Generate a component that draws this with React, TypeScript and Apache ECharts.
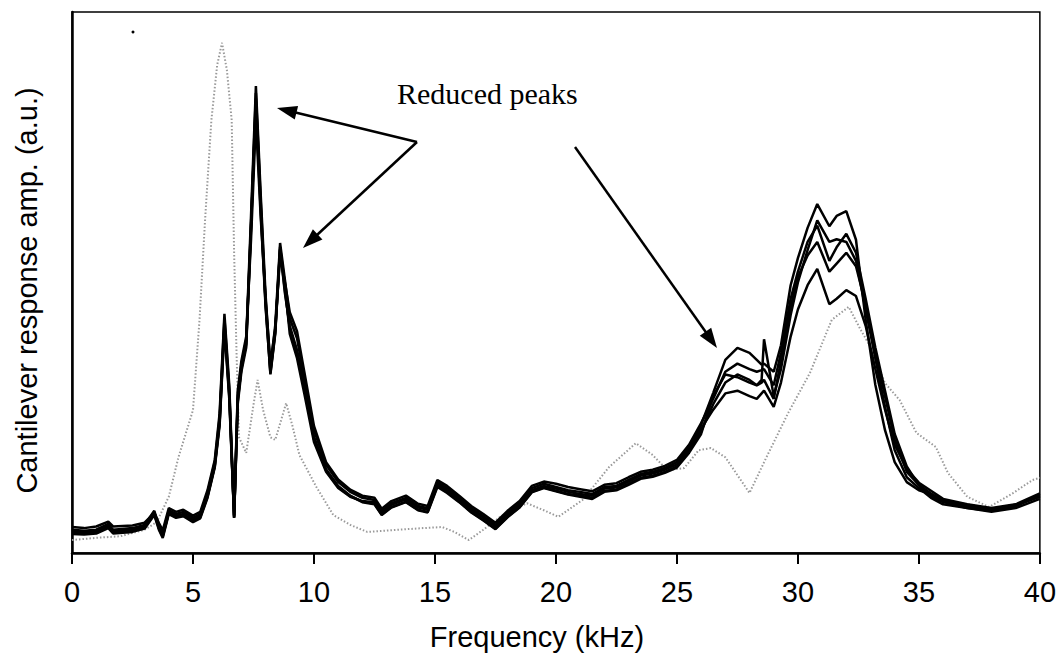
import { useEffect, useRef } from "react";
import * as echarts from "echarts";

// Frequency samples (kHz) for the black (loaded) curves
const FREQ = [
  0, 0.5, 1, 1.5, 1.7, 2.5, 3, 3.4, 3.6, 3.75,
  4, 4.3, 4.6, 5, 5.3, 5.6, 5.9, 6.1, 6.3, 6.5,
  6.7, 6.85, 7, 7.2, 7.4, 7.6, 7.8, 8, 8.2, 8.4,
  8.6, 8.8, 9, 9.3, 9.6, 10, 10.5, 11, 11.5, 12,
  12.5, 12.8, 13.2, 13.8, 14.3, 14.7, 15.1, 15.5, 16, 16.5,
  17, 17.5, 18, 18.5, 19, 19.5, 20, 20.5, 21, 21.5,
  22, 22.5, 23, 23.5, 24, 24.5, 25, 25.5, 26, 26.5,
  27, 27.5, 28, 28.3, 28.5, 28.6, 29, 29.3, 29.7, 30,
  30.4, 30.8, 31.3, 31.6, 32, 32.4, 32.8, 33.2, 33.6, 34,
  34.5, 35, 35.5, 36, 37, 38, 39, 40,
];

const CURVE_A = [
  4.3, 4.1, 4.3, 5.4, 4.3, 4.6, 5.2, 7.8, 5.0, 3.7,
  7.9, 7.2, 7.6, 6.5, 7.2, 11.1, 16.8, 25.0, 43.4, 30.1,
  6.5, 29.2, 34.8, 39.4, 62.5, 86.3, 66.2, 47.7, 34.2, 42.1,
  57.3, 50.5, 43.4, 39.7, 32.3, 22.7, 16.3, 13.1, 11.3, 10.2,
  9.8, 7.8, 9.2, 10.2, 8.7, 8.3, 13.1, 12.0, 10.2, 8.3,
  6.8, 5.2, 7.4, 9.2, 12.0, 12.8, 12.2, 11.6, 11.3, 10.9,
  12.2, 12.4, 13.5, 14.6, 15.0, 15.7, 16.8, 19.6, 23.7, 29.6,
  35.7, 37.9, 37.0, 35.7, 34.8, 35.0, 33.5, 38.4, 49.5, 54.5,
  60.1, 64.5, 60.4, 62.3, 63.2, 57.9, 43.1, 31.1, 22.7, 16.8,
  13.1, 11.6, 10.9, 9.8, 8.9, 8.1, 8.9, 10.5,
];

const CURVE_B = [
  3.5, 3.4, 3.6, 4.6, 3.6, 3.9, 4.5, 7.0, 4.2, 2.8,
  7.2, 6.5, 6.8, 5.7, 6.4, 10.2, 15.8, 23.5, 41.5, 28.5,
  6.5, 27.5, 33.5, 38.0, 60.0, 84.0, 64.0, 46.0, 33.0, 40.5,
  56.0, 48.5, 41.5, 37.0, 30.8, 21.5, 15.5, 12.4, 10.6, 9.5,
  9.1, 7.1, 8.5, 9.5, 8.0, 7.6, 12.4, 11.3, 9.5, 7.6,
  6.1, 4.5, 6.7, 8.5, 11.3, 12.1, 11.5, 10.9, 10.6, 10.2,
  11.5, 11.7, 12.8, 13.9, 14.3, 15.0, 16.0, 18.8, 22.5, 27.5,
  31.5, 33.0, 32.0, 31.0, 32.0, 39.5, 29.0, 34.0, 44.0, 50.0,
  56.0, 61.5, 57.5, 58.0, 57.5, 54.0, 45.0, 36.0, 27.0, 19.0,
  14.0, 12.0, 10.2, 9.0, 8.3, 7.6, 8.3, 10.0,
];

const CURVE_C = [
  4.8, 4.6, 4.9, 5.8, 4.9, 5.1, 5.6, 7.4, 5.5, 4.2,
  8.3, 7.6, 8.0, 6.9, 7.6, 11.6, 17.2, 25.8, 44.2, 31.0,
  7.0, 30.0, 35.5, 40.0, 58.0, 80.0, 62.0, 47.0, 35.0, 41.5,
  55.0, 50.0, 44.5, 41.0, 33.5, 23.5, 16.8, 13.6, 11.7, 10.6,
  10.2, 8.2, 9.6, 10.6, 9.1, 8.7, 13.5, 12.4, 10.6, 8.7,
  7.2, 5.6, 7.8, 9.6, 12.4, 13.2, 12.8, 12.2, 11.8, 11.4,
  12.6, 12.9, 14.0, 15.0, 15.4, 16.1, 17.2, 20.0, 24.0, 28.5,
  33.5, 35.0, 34.0, 33.5, 33.8, 34.0, 31.0, 37.0, 47.0, 52.0,
  57.5, 60.5, 54.0, 56.5, 59.0, 55.5, 47.0, 38.0, 30.0, 22.0,
  16.0, 12.5, 10.5, 9.4, 8.3, 7.8, 8.6, 10.7,
];

const CURVE_D = [
  4.0, 3.9, 4.1, 5.0, 4.1, 4.3, 4.9, 7.6, 4.6, 3.3,
  7.5, 6.9, 7.2, 6.1, 6.9, 10.6, 16.2, 24.2, 42.5, 29.5,
  6.6, 28.5, 34.0, 38.8, 61.0, 85.0, 65.0, 46.5, 33.6, 41.0,
  56.6, 49.5, 40.5, 36.0, 29.5, 20.5, 15.0, 12.0, 10.4, 9.6,
  9.4, 7.5, 8.9, 9.9, 8.4, 8.0, 12.8, 11.6, 9.9, 8.0,
  6.5, 4.9, 7.1, 8.9, 11.6, 12.4, 11.9, 11.3, 10.9, 10.6,
  11.9, 12.1, 13.2, 14.3, 14.7, 15.4, 16.4, 19.2, 23.0, 26.5,
  29.5, 30.0, 29.0, 28.5, 29.5, 30.0, 27.0, 31.5, 40.0, 45.0,
  49.5, 52.5, 46.0, 47.0, 48.6, 47.5, 42.0, 34.0, 26.5, 20.0,
  15.5, 13.0, 11.5, 10.0, 9.0, 8.3, 9.0, 11.0,
];

const CURVE_E = [
  3.8, 3.6, 3.9, 4.9, 3.8, 4.1, 4.7, 7.2, 4.4, 3.0,
  7.4, 6.7, 7.0, 5.9, 6.6, 10.4, 16.0, 24.0, 42.0, 29.0,
  6.8, 28.0, 34.2, 38.5, 60.5, 83.0, 63.0, 45.5, 33.2, 40.8,
  56.2, 48.0, 42.0, 37.5, 31.0, 21.0, 15.3, 12.2, 10.5, 9.4,
  9.0, 7.0, 8.4, 9.4, 7.9, 7.5, 12.2, 11.1, 9.4, 7.5,
  6.0, 4.4, 6.6, 8.4, 11.2, 12.0, 11.4, 10.8, 10.4, 10.0,
  11.3, 11.6, 12.6, 13.7, 14.1, 14.8, 15.8, 18.5, 22.0, 29.0,
  33.0, 32.5, 31.5, 31.0, 31.5, 32.0, 28.5, 35.5, 45.5, 51.0,
  55.0, 57.5, 52.0, 53.5, 55.5, 53.0, 46.0, 37.0, 29.0, 21.0,
  15.0, 12.6, 11.0, 9.6, 8.6, 8.0, 8.8, 10.4,
];

// Gray dotted reference curve: [frequency kHz, amplitude]
const GRAY_CURVE = [
  [0, 2.4], [1, 2.8], [2, 3.1], [3, 4.3], [3.5, 5.7], [4.0, 10.4], [4.4, 17.7],
  [5.0, 26.4], [5.27, 43.1], [5.5, 61.6], [5.76, 80.0], [6.0, 90.2], [6.2, 94.3],
  [6.4, 89.3], [6.6, 80.0], [6.7, 55.5], [6.8, 37.0], [6.9, 21.4], [7.2, 18.5],
  [7.5, 27.4], [7.67, 32.0], [7.9, 26.4], [8.2, 21.4], [8.4, 20.9], [8.85, 27.7],
  [9.1, 23.7], [9.4, 18.1], [10.1, 12.2], [10.8, 7.0], [11.5, 5.2], [12.2, 3.9],
  [13.5, 4.3], [14.5, 4.6], [15.3, 4.8], [15.8, 3.9], [16.4, 2.4], [17.0, 4.3],
  [17.7, 6.7], [18.8, 9.2], [19.5, 7.9], [20.1, 6.7], [21.1, 9.8], [22.2, 15.9],
  [23.3, 20.3], [24.0, 18.1], [24.6, 15.3], [25.3, 15.7], [25.9, 19.0], [26.4, 19.4],
  [27.0, 17.7], [27.5, 14.4], [28.0, 11.1], [28.7, 17.7], [29.6, 25.9], [30.5, 33.3],
  [31.4, 43.1], [32.1, 45.5], [32.6, 41.2], [33.0, 38.1], [33.6, 31.4], [34.2, 28.3],
  [34.9, 22.2], [35.7, 19.6], [36.2, 14.8], [37.0, 10.4], [37.9, 8.5], [38.9, 11.1],
  [39.7, 13.5], [40, 13.9],
];

const X_MIN = 0;
const X_MAX = 40;
const X_INTERVAL = 5;

const X_TITLE = "Frequency (kHz)";
const Y_TITLE = "Cantilever response amp. (a.u.)";
const ANNOTATION = "Reduced peaks";

const SANS = "'Liberation Sans', Arial, sans-serif";
const SERIF = "'Liberation Serif', 'Times New Roman', serif";

function arrow(x1: number, y1: number, x2: number, y2: number) {
  const dx = x2 - x1;
  const dy = y2 - y1;
  const L = Math.hypot(dx, dy);
  const ux = dx / L;
  const uy = dy / L;
  const hl = 20;
  const hw = 7;
  const bx = x2 - ux * hl;
  const by = y2 - uy * hl;
  return [
    {
      type: "line",
      z: 100,
      shape: { x1, y1, x2: bx + ux * 2, y2: by + uy * 2 },
      style: { stroke: "#000", lineWidth: 2.5 },
    },
    {
      type: "polygon",
      z: 100,
      shape: {
        points: [
          [x2, y2],
          [bx - uy * hw, by + ux * hw],
          [bx + uy * hw, by - ux * hw],
        ],
      },
      style: { fill: "#000" },
    },
  ];
}

export default function App() {
  const ref = useRef<HTMLDivElement>(null);

  useEffect(() => {
    if (!ref.current) return;
    const chart = echarts.init(ref.current, null, { renderer: "svg" });

    const blackCurves = [CURVE_A, CURVE_B, CURVE_C, CURVE_D, CURVE_E];

    const series: any[] = [
      {
        type: "line",
        name: "unloaded",
        data: GRAY_CURVE,
        showSymbol: false,
        symbol: "none",
        lineStyle: { color: "#9a9a9a", width: 2, type: [1.5, 2] },
        z: 2,
      },
      ...blackCurves.map((arr, k) => ({
        type: "line",
        name: "loaded " + (k + 1),
        data: FREQ.map((f, i) => [f, arr[i]]),
        showSymbol: false,
        symbol: "none",
        lineStyle: { color: "#000", width: 2.5 },
        z: 3,
      })),
    ];

    chart.setOption({
      animation: false,
      backgroundColor: "#fff",
      grid: {
        left: 72,
        right: 18,
        top: 12,
        bottom: 106,
        show: true,
        borderColor: "#000",
        borderWidth: 1.5,
        backgroundColor: "transparent",
      },
      xAxis: {
        type: "value",
        min: X_MIN,
        max: X_MAX,
        interval: X_INTERVAL,
        axisLine: { show: true, onZero: false, lineStyle: { color: "#000", width: 2.5 } },
        axisTick: { show: true, inside: false, length: 11, lineStyle: { color: "#000", width: 2 } },
        axisLabel: { color: "#000", fontSize: 29, fontFamily: SANS, margin: 24 },
        splitLine: { show: false },
        name: X_TITLE,
        nameLocation: "middle",
        nameGap: 69,
        nameTextStyle: { color: "#000", fontSize: 29, fontFamily: SANS, padding: [0, 38, 0, 0] },
      },
      yAxis: {
        type: "value",
        min: 0,
        max: 100,
        axisLine: { show: true, lineStyle: { color: "#000", width: 2.5 } },
        axisTick: { show: false },
        axisLabel: { show: false },
        splitLine: { show: false },
        name: Y_TITLE,
        nameLocation: "middle",
        nameGap: 31,
        nameTextStyle: { color: "#000", fontSize: 29, fontFamily: SANS, padding: [0, 16, 0, 0] },
      },
      series,
      graphic: [
        {
          type: "text",
          z: 100,
          style: {
            text: ANNOTATION,
            x: 397,
            y: 93,
            align: "left",
            verticalAlign: "middle",
            fontSize: 30,
            fontFamily: SERIF,
            fill: "#000",
          },
        },
        ...arrow(417, 142, 277, 108),
        ...arrow(417, 142, 303, 248),
        ...arrow(575, 147, 717, 348),
        { type: "circle", z: 100, shape: { cx: 133, cy: 32, r: 1.5 }, style: { fill: "#000" } },
      ],
    });

    return () => chart.dispose();
  }, []);

  return (
    <div
      ref={ref}
      style={{ position: "fixed", left: 0, top: 0, width: 1059, height: 659, background: "#fff" }}
    />
  );
}
